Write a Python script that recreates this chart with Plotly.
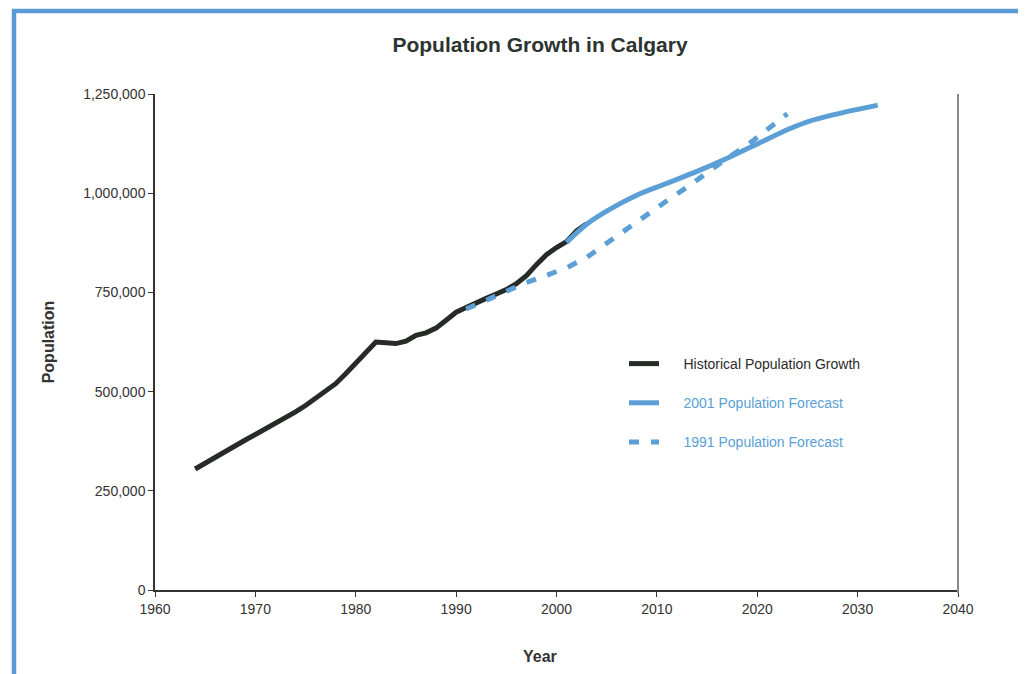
import plotly.graph_objects as go

# ---- data ----
hist_years = [1964, 1965, 1966, 1967, 1968, 1969, 1970, 1971, 1972, 1973, 1974, 1975,
              1976, 1977, 1978, 1979, 1980, 1981, 1982, 1983, 1984, 1985, 1986, 1987,
              1988, 1989, 1990, 1991, 1992, 1993, 1994, 1995, 1996, 1997, 1998, 1999,
              2000, 2001, 2002, 2003]
hist_pop = [305000, 320000, 336000, 349000, 363000, 378000, 392000, 406000, 421000, 432000,
            449000, 465000, 484000, 500000, 520000, 545000, 571000, 600000, 625000, 623000,
            621000, 627000, 642000, 648000, 660000, 680000, 700000, 712000, 725000, 735000,
            746000, 757000, 772000, 792000, 820000, 845000, 863000, 878000, 905000, 923000]

f2001_years = [2001, 2003, 2005, 2008, 2011, 2014, 2017, 2020, 2023, 2025, 2028, 2032]
f2001_pop = [876000, 922000, 955000, 995000, 1025000, 1055000, 1088000, 1124000,
             1160000, 1180000, 1200000, 1222000]

f1991_years = [1991, 1993, 1995, 1997, 1999, 2001, 2003, 2005, 2007, 2009, 2011, 2013,
               2015, 2017, 2019, 2021, 2023]
f1991_pop = [708000, 730000, 752000, 775000, 793000, 812000, 838000, 874000, 912000,
             945000, 981000, 1015000, 1052000, 1088000, 1121000, 1159000, 1200000]

x_ticks = [1960, 1970, 1980, 1990, 2000, 2010, 2020, 2030, 2040]
y_ticks = [0, 250000, 500000, 750000, 1000000, 1250000]

# ---- style ----
BLACK = "#262b28"
BLUE = "#5b9fd6"
FONT = "Liberation Sans, Arial, sans-serif"
NB = "\u00a0" * 5

# page body has an 8px margin: figure coords = screen coords - 8
OFF = 8
W, H = 1018, 666
L, R, T, B = 155 - OFF, W - (958 - OFF), 94 - OFF, H - (590 - OFF)
pw, ph = W - L - R, H - T - B


def px_x(p):
    return (p - OFF - L) / pw


def px_y(p):
    return (H - B - (p - OFF)) / ph


fig = go.Figure()
fig.add_trace(go.Scatter(
    x=hist_years, y=hist_pop, mode="lines", legendgroup="a",
    name=NB + "<span style='color:#2b2b2b'>Historical Population Growth</span>",
    line=dict(color=BLACK, width=5)))
fig.add_trace(go.Scatter(
    x=f2001_years, y=f2001_pop, mode="lines", legendgroup="b", line_shape="spline",
    name=NB + "<span style='color:#5b9fd6'>2001 Population Forecast</span>",
    line=dict(color=BLUE, width=5)))
fig.add_trace(go.Scatter(
    x=f1991_years, y=f1991_pop, mode="lines", legendgroup="c",
    name=NB + "<span style='color:#5b9fd6'>1991 Population Forecast</span>",
    line=dict(color=BLUE, width=5, dash="10px,12px")))

fig.update_layout(
    width=W, height=H,
    margin=dict(l=L, r=R, t=T, b=B),
    paper_bgcolor="white", plot_bgcolor="white",
    font=dict(family=FONT, size=14, color="#333333"),
    title=dict(text="<b>Population Growth in Calgary</b>", x=(540 - OFF) / W, xref="container",
               xanchor="center", y=1 - (45 - OFF) / H, yref="container", yanchor="middle",
               font=dict(size=21, color="#2d3330", family=FONT)),
    showlegend=True,
    legend=dict(x=px_x(624), y=px_y(348), xanchor="left", yanchor="top",
                bgcolor="rgba(0,0,0,0)", tracegroupgap=18, itemwidth=30,
                font=dict(size=14, family=FONT)),
    xaxis=dict(range=[1960, 2040], tickvals=x_ticks, ticks="outside", ticklen=5,
               tickcolor="#333333", showline=True, linecolor="#333333", linewidth=1.5,
               showgrid=False, zeroline=False),
    yaxis=dict(range=[0, 1250000], tickvals=y_ticks, tickformat=",", ticks="outside",
               ticklen=5, tickcolor="#333333", showline=True, linecolor="#333333",
               linewidth=1.5, showgrid=False, zeroline=False,
               title=dict(text="<b>Population</b>", font=dict(size=16, color="#333333"),
                          standoff=25)),
)

fig.add_annotation(text="<b>Year</b>", xref="paper", yref="paper",
                   x=px_x(540), y=px_y(656), xanchor="center", yanchor="middle",
                   showarrow=False, font=dict(size=16, color="#333333", family=FONT))

# right-hand frame line of the plot area
fig.add_shape(type="line", xref="paper", yref="paper", x0=1, x1=1, y0=-0.006, y1=1.0,
              line=dict(color="#888888", width=2))
# outer blue border
fig.add_shape(type="rect", xref="paper", yref="paper",
              x0=px_x(14), x1=px_x(1021.5), y0=px_y(700), y1=px_y(11),
              line=dict(color="#5b9bd5", width=4.5), fillcolor="rgba(0,0,0,0)", layer="above")

fig.write_html("out.html")
